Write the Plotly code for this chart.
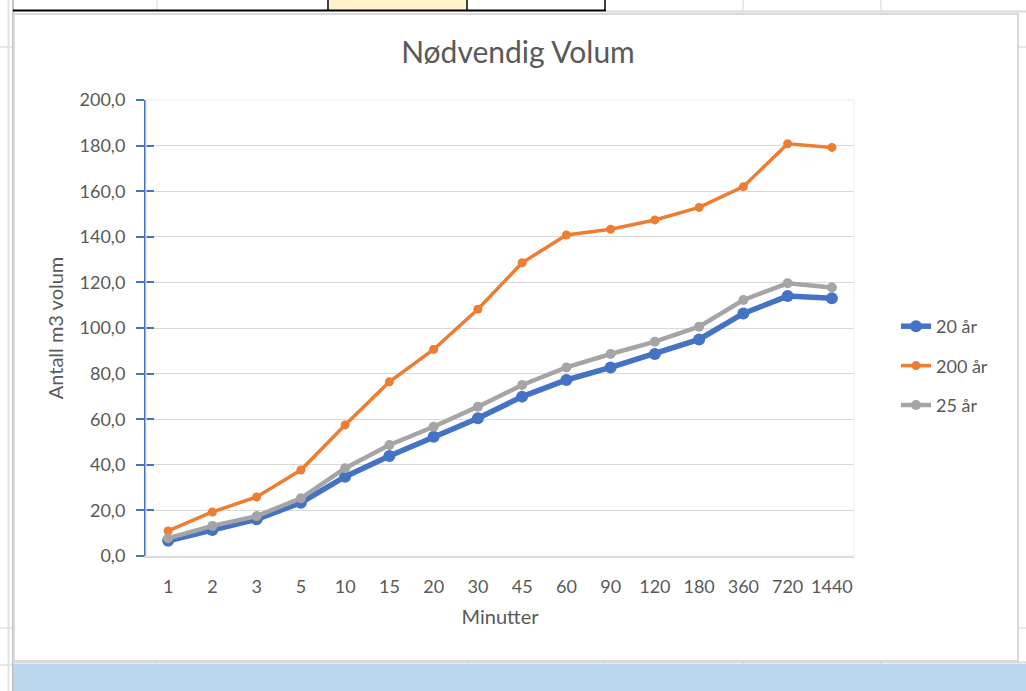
import plotly.graph_objects as go

# ---------------- data ----------------
minutter = ["1", "2", "3", "5", "10", "15", "20", "30", "45", "60",
            "90", "120", "180", "360", "720", "1440"]
aar_20 = [6.7, 11.4, 16.1, 23.4, 34.8, 43.9, 52.3, 60.4, 69.9, 77.2,
          82.7, 88.6, 95.0, 106.4, 114.0, 113.0]
aar_200 = [11.0, 19.3, 25.9, 37.7, 57.5, 76.4, 90.6, 108.2, 128.6, 140.8,
           143.3, 147.4, 152.9, 162.0, 180.8, 179.2]
aar_25 = [7.8, 13.2, 17.5, 25.3, 38.5, 48.7, 56.7, 65.5, 75.0, 82.7,
          88.6, 94.0, 100.6, 112.3, 119.6, 117.8]
y_ticks = [0, 20, 40, 60, 80, 100, 120, 140, 160, 180, 200]

# ---------------- geometry ----------------
W, H = 1026, 691
PL, PR, PT, PB = 146, 854, 100, 556
FONT = "Lato, Carlito, Calibri, sans-serif"
TXT = "#595959"


def px(x):
    return (x - PL) / (PR - PL)


def py(y):
    return (PB - y) / (PB - PT)


fig = go.Figure()

series = [("20 år", aar_20, "#4472C4", 5.5, 12),
          ("200 år", aar_200, "#ED7D31", 3.5, 9),
          ("25 år", aar_25, "#A5A5A5", 4.5, 10)]
for name, vals, col, lw, ms in series:
    fig.add_trace(go.Scatter(
        x=minutter, y=vals, name=name, mode="lines+markers",
        line=dict(color=col, width=lw),
        marker=dict(color=col, size=ms, symbol="circle"),
        legendgroup=name,
    ))

# dummy trace for inside tick marks axis
fig.add_trace(go.Scatter(x=[None], y=[None], yaxis="y2", showlegend=False,
                         hoverinfo="skip"))

shapes = []


def rect(x0, y0, x1, y1, fill, lcol=None, lw=0, layer="below"):
    shapes.append(dict(type="rect", xref="paper", yref="paper",
                       x0=px(x0), x1=px(x1), y0=py(y0), y1=py(y1),
                       fillcolor=fill, line=dict(color=lcol or fill, width=lw),
                       layer=layer))


def line(x0, y0, x1, y1, col, lw, layer="below"):
    shapes.append(dict(type="line", xref="paper", yref="paper",
                       x0=px(x0), x1=px(x1), y0=py(y0), y1=py(y1),
                       line=dict(color=col, width=lw), layer=layer))


# spreadsheet surroundings
line(8.5, -5, 8.5, 700, "#E3E3E3", 2)
line(13, -5, 13, 700, "#C4C4C4", 2)
for yy in (47, 628, 665):
    line(0, yy, 12, yy, "#E0E0E0", 1.5)
# top row cells
rect(329, -5, 466, 10, "#FFF2CC")
line(157, -5, 157, 10, "#D9D9D9", 1)
for xx in (328, 467, 605):
    line(xx, -5, xx, 10.5, "#000000", 1.5)
line(13, 10.5, 606, 10.5, "#000000", 2)
line(606, 11.5, 1030, 11.5, "#DADADA", 2)
for xx in (743, 881):
    line(xx, -5, xx, 11, "#E0E0E0", 1.5)
for yy in (47, 628):
    line(1019, yy, 1030, yy, "#E0E0E0", 1.5)
# chart area
rect(14, 14, 1018, 661, "#FFFFFF", "#D9D9D9", 2)
# bottom blue band
line(13, 662.5, 1030, 662.5, "#D9D9D9", 2)
rect(14, 664, 1030, 700, "#BDD7EE")
for xx in (157, 328, 467, 605, 743, 881):
    line(xx, 662, xx, 664, "#D0D0D0", 1)

# plot area faint border
shapes.append(dict(type="rect", xref="paper", yref="paper", x0=0, x1=1,
                   y0=0, y1=1, line=dict(color="#E9EDF5", width=1),
                   fillcolor="rgba(0,0,0,0)", layer="above"))

fig.update_layout(
    width=W, height=H,
    margin=dict(l=PL, r=W - PR, t=PT, b=H - PB, pad=0),
    paper_bgcolor="#FFFFFF", plot_bgcolor="#FFFFFF",
    separators=", ",
    font=dict(family=FONT, color=TXT, size=18),
    title=dict(text="Nødvendig Volum", font=dict(size=30, color=TXT, family=FONT),
               x=518 / W, xref="container", xanchor="center",
               y=1 - 52 / H, yref="container", yanchor="middle"),
    xaxis=dict(type="category", range=[-0.5, 15.5], showgrid=False,
               ticks="", showline=True, linecolor="#D9D9D9", linewidth=1.5,
               tickfont=dict(size=18, color=TXT), ticklabelstandoff=14,
               title=dict(text="Minutter", font=dict(size=20, color=TXT),
                          standoff=14)),
    yaxis=dict(range=[0, 200], tickvals=y_ticks, tickformat=".1f",
               showgrid=True, gridcolor="#D9D9D9", gridwidth=1.3,
               zeroline=False, showline=True, linecolor="#4472C4",
               linewidth=2, ticks="outside", ticklen=8, tickwidth=2,
               tickcolor="#4472C4", tickfont=dict(size=18, color=TXT),
               ticklabelstandoff=7,
               title=dict(text="Antall m3 volum", font=dict(size=20, color=TXT),
                          standoff=11)),
    yaxis2=dict(overlaying="y", anchor="x", side="left", range=[0, 200],
                tickvals=y_ticks, showticklabels=False, showgrid=False,
                zeroline=False, showline=False, ticks="inside", ticklen=8,
                tickwidth=2, tickcolor="#4472C4"),
    legend=dict(x=px(896), xanchor="left", y=py(366), yanchor="middle",
                font=dict(size=18, color=TXT), bgcolor="rgba(0,0,0,0)",
                traceorder="grouped", tracegroupgap=13, itemwidth=30),
    shapes=shapes,
    showlegend=True,
)

fig.write_html(
    "out.html",
    config={"displayModeBar": False},
    post_script="document.body.style.margin='0';"
                "document.body.style.overflow='hidden';",
)
